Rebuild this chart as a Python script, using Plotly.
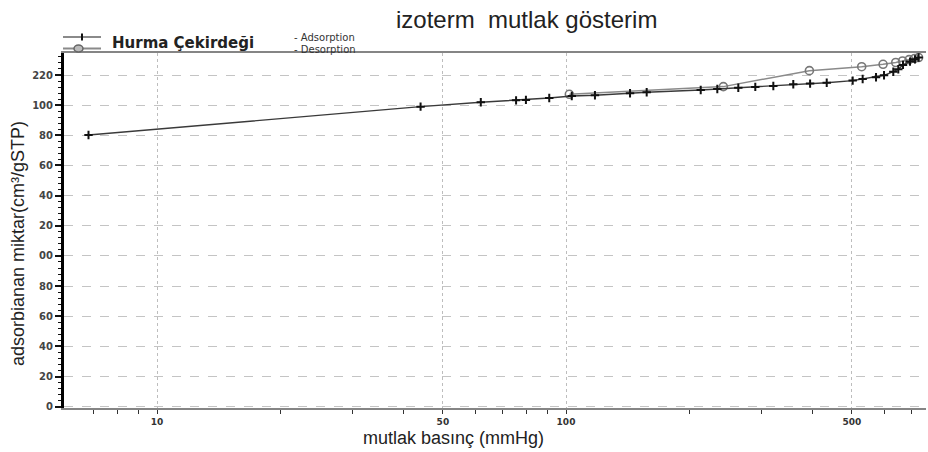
import plotly.graph_objects as go

# ---------------- data ----------------
pressure_ads = [6.8, 44.1, 61.9, 75.5, 79.8, 91.0, 103.3, 117.7, 143.4, 157.5, 213.5, 234.4,
                263.8, 290.3, 321.3, 359.5, 395.2, 434.0, 502.3, 531.3, 572.8, 599.2, 631.3,
                649.3, 666.8, 693.6, 713.4, 728.0]
qty_ads = [180.2, 199.0, 201.9, 203.2, 203.5, 204.8, 206.1, 206.6, 207.9, 208.6, 210.1, 210.7,
           211.6, 212.1, 212.7, 213.9, 214.3, 214.9, 216.3, 217.4, 218.5, 219.8, 222.2,
           223.8, 226.7, 228.9, 230.4, 231.6]

pressure_des = [728.0, 712.0, 690.0, 665.0, 640.0, 596.0, 528.4, 393.6, 242.5, 101.9]
qty_des = [231.6, 231.0, 230.2, 229.3, 228.3, 227.1, 225.5, 222.9, 212.3, 207.2]

x_tickvals = [10, 50, 100, 500]
x_ticktext = ["10", "50", "100", "500"]
x_minorvals = [7, 8, 9, 20, 30, 40, 60, 70, 80, 90, 200, 300, 400, 600, 700]

y_tickvals = [0, 20, 40, 60, 80, 100, 120, 140, 160, 180, 200, 220]
y_ticktext = ["0", "20", "40", "60", "80", "00", "20", "40", "60", "80", "100", "220"]

title_text = "izoterm\u00a0 mutlak gösterim"
x_title = "mutlak basınç (mmHg)"
y_title = "adsorbianan miktar(cm³/gSTP)"
legend_group = "Hurma Çekirdeği"
legend_ads = "- Adsorption"
legend_des = "- Desorption"

# ---------------- layout helpers (pixel -> paper) ----------------
W, H = 928, 452
ML, MR, MT, MB = 64, 2, 53, 44
PW, PH = W - ML - MR, H - MT - MB


def px(x):
    return (x - ML) / PW


def py(y):
    return (H - MB - y) / PH


fig = go.Figure()

fig.add_trace(go.Scatter(
    x=pressure_des, y=qty_des, mode="lines+markers", name="Desorption",
    line=dict(color="#8a8a8a", width=1.5),
    marker=dict(symbol="circle-open", size=8, color="#777777", line=dict(width=1.6, color="#777777")),
    showlegend=False,
))
fig.add_trace(go.Scatter(
    x=pressure_ads, y=qty_ads, mode="lines+markers", name="Adsorption",
    line=dict(color="#3a3a3a", width=1.4),
    marker=dict(symbol="cross-thin", size=6, line=dict(width=2, color="#111111")),
    showlegend=False,
))

tickfont = dict(family="DejaVu Sans", size=9, color="#333333", weight="bold")

fig.update_xaxes(
    type="log", range=[0.7726, 2.8802],
    tickmode="array", tickvals=x_tickvals, ticktext=x_ticktext,
    ticks="outside", ticklen=4, tickwidth=1, tickcolor="#333333",
    tickfont=tickfont,
    showline=True, linecolor="#858585", linewidth=2, mirror=True,
    showgrid=True, gridcolor="#bdbdbd", gridwidth=1, griddash="dot",
    minor=dict(tickmode="array", tickvals=x_minorvals, ticks="outside", ticklen=4,
               tickwidth=1, tickcolor="#333333", showgrid=False),
    zeroline=False,
)
fig.update_yaxes(
    range=[-0.86, 234.6],
    tickmode="array", tickvals=y_tickvals, ticktext=y_ticktext,
    ticks="outside", ticklen=6, tickwidth=1.5, tickcolor="#111111",
    tickfont=dict(family="DejaVu Sans", size=10, color="#444444", weight="bold"),
    showline=True, linecolor="#000000", linewidth=3, mirror=False,
    showgrid=True, gridcolor="#c4c4c4", gridwidth=1, griddash="dash",
    minor=dict(dtick=4, ticks="outside", ticklen=3, tickwidth=1, tickcolor="#111111",
               showgrid=False),
    zeroline=False,
)

annotations = [
    dict(text=title_text, x=px(526), y=py(20), xref="paper", yref="paper",
         xanchor="center", yanchor="middle", showarrow=False,
         font=dict(family="Liberation Sans", size=24, color="#222222")),
    dict(text=x_title, x=px(453), y=py(438), xref="paper", yref="paper",
         xanchor="center", yanchor="middle", showarrow=False,
         font=dict(family="Liberation Sans", size=18, color="#222222")),
    dict(text=y_title, x=px(18), y=py(244), xref="paper", yref="paper",
         xanchor="center", yanchor="middle", showarrow=False, textangle=-90,
         font=dict(family="Liberation Sans", size=18, color="#222222")),
    dict(text="<b>" + legend_group + "</b>", x=px(110), y=py(43), xref="paper", yref="paper",
         xanchor="left", yanchor="middle", showarrow=False,
         font=dict(family="DejaVu Sans", size=15, color="#222222")),
    dict(text=legend_ads, x=px(292), y=py(37), xref="paper", yref="paper",
         xanchor="left", yanchor="middle", showarrow=False,
         font=dict(family="DejaVu Sans", size=10, color="#333333")),
    dict(text=legend_des, x=px(292), y=py(49), xref="paper", yref="paper",
         xanchor="left", yanchor="middle", showarrow=False,
         font=dict(family="DejaVu Sans", size=10, color="#333333")),
]

shapes = [
    # legend glyph: adsorption
    dict(type="line", xref="paper", yref="paper", x0=px(63), x1=px(101), y0=py(37), y1=py(37),
         line=dict(color="#8a8a8a", width=2)),
    dict(type="line", xref="paper", yref="paper", x0=px(82), x1=px(82), y0=py(33.5), y1=py(40.5),
         line=dict(color="#111111", width=2)),
    # legend glyph: desorption
    dict(type="line", xref="paper", yref="paper", x0=px(63), x1=px(101), y0=py(48.5), y1=py(48.5),
         line=dict(color="#8a8a8a", width=2)),
    dict(type="circle", xref="paper", yref="paper", x0=px(74), x1=px(83), y0=py(45), y1=py(52),
         line=dict(color="#666666", width=1.5), fillcolor="#bbbbbb"),
]

fig.update_layout(
    width=W, height=H,
    margin=dict(l=ML, r=MR, t=MT, b=MB),
    paper_bgcolor="white", plot_bgcolor="white",
    annotations=annotations, shapes=shapes,
    showlegend=False,
)

fig.write_html("out.html")
